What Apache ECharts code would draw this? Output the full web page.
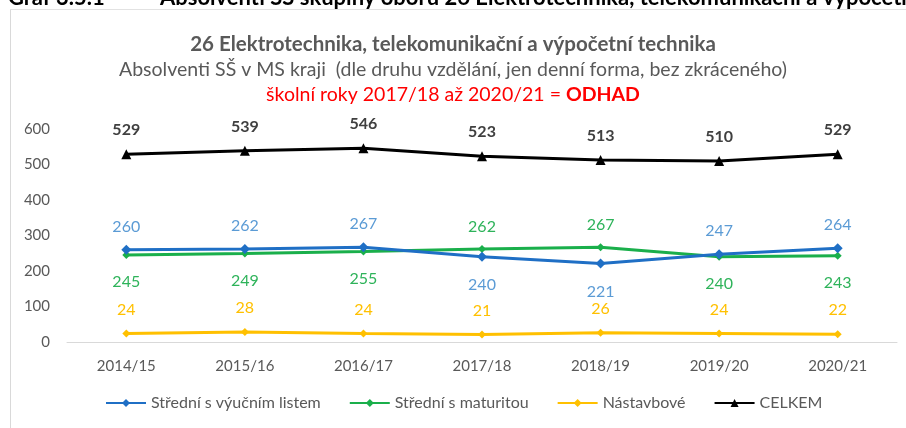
<!DOCTYPE html>
<html>
<head>
<meta charset="utf-8">
<script src="https://cdn.jsdelivr.net/npm/echarts@6/dist/echarts.min.js"></script>
<style>
  html, body { margin: 0; padding: 0; background: #fff; }
  #chart { width: 906px; height: 428px; }
</style>
</head>
<body>
<div id="chart"></div>
<script>
const years = ['2014/15', '2015/16', '2016/17', '2017/18', '2018/19', '2019/20', '2020/21']
const vyucni = [260, 262, 267, 240, 221, 247, 264]
const maturita = [245, 249, 255, 262, 267, 240, 243]
const nastavbove = [24, 28, 24, 21, 26, 24, 22]
const celkem = [529, 539, 546, 523, 513, 510, 529]
const yTicks = [0, 100, 200, 300, 400, 500, 600]

const font = 'Lato, "Open Sans", sans-serif'

// label nad/pod podle toho, ktera z dvou car je vys
function withLabelPos(values, other, color) {
  return values.map((v, i) => ({
    value: v,
    label: {
      position: v >= other[i] ? 'top' : 'bottom',
      distance: v >= other[i] ? 10 : 15,
      color: color,
    },
  }))
}

const chart = echarts.init(document.getElementById('chart'))

chart.setOption({
  backgroundColor: '#fff',
  animation: false,
  textStyle: { fontFamily: font },
  title: [
    {
      text: '26 Elektrotechnika, telekomunikační a výpočetní technika',
      left: 'center',
      top: 29,
      textStyle: { fontSize: 20.5, fontWeight: 'bold', color: '#595959', fontFamily: font },
    },
    {
      text: 'Absolventi SŠ v MS kraji  (dle druhu vzdělání, jen denní forma, bez zkráceného)',
      left: 'center',
      top: 55,
      textStyle: { fontSize: 19.5, fontWeight: 'normal', color: '#595959', fontFamily: font },
    },
    {
      text: '{n|školní roky 2017/18 až 2020/21 = }{b|ODHAD}',
      left: 'center',
      top: 80,
      textStyle: {
        rich: {
          n: { fontSize: 19.5, color: '#ff0000', fontWeight: 'normal', fontFamily: font },
          b: { fontSize: 19.5, color: '#ff0000', fontWeight: 'bold', fontFamily: font },
        },
      },
    },
  ],
  graphic: [
    {
      type: 'text',
      left: 8,
      top: -13,
      style: { text: 'Graf 3.5.1', font: 'bold 22px ' + font, fill: '#000' },
    },
    {
      type: 'text',
      left: 160,
      top: -13,
      style: {
        text: 'Absolventi SŠ skupiny oborů 26 Elektrotechnika, telekomunikační a výpočetní technika',
        font: 'bold 22px ' + font,
        fill: '#000',
      },
    },
    {
      type: 'line',
      shape: { x1: 10.5, y1: 9, x2: 10.5, y2: 428 },
      style: { stroke: '#d9d9d9', lineWidth: 1 },
    },
    {
      type: 'line',
      shape: { x1: 10, y1: 9.5, x2: 906, y2: 9.5 },
      style: { stroke: '#e2e2e2', lineWidth: 1 },
    },
  ],
  grid: { left: 67, right: 9, top: 129, bottom: 86 },
  legend: {
    bottom: 12,
    left: 100,
    itemWidth: 40,
    itemHeight: 10,
    itemGap: 28,
    textStyle: { fontSize: 16, color: '#595959', fontFamily: font },
    data: ['Střední s výučním listem', 'Střední s maturitou', 'Nástavbové', 'CELKEM'],
  },
  xAxis: {
    type: 'category',
    data: years,
    boundaryGap: true,
    axisLine: { lineStyle: { color: '#d9d9d9', width: 1 } },
    axisTick: { show: false },
    axisLabel: { color: '#595959', fontSize: 15, margin: 17 },
  },
  yAxis: {
    type: 'value',
    min: yTicks[0],
    max: yTicks[yTicks.length - 1],
    interval: 100,
    splitLine: { show: false },
    axisLine: { show: false },
    axisTick: { show: false },
    axisLabel: { color: '#595959', fontSize: 15, margin: 17 },
  },
  series: [
    {
      name: 'Střední s výučním listem',
      type: 'line',
      data: withLabelPos(vyucni, maturita, '#5b9bd5'),
      symbol: 'diamond',
      symbolSize: 10,
      lineStyle: { width: 3, color: '#1f6fc5' },
      itemStyle: { color: '#1f6fc5' },
      label: { show: true, fontSize: 16 },
      z: 3,
    },
    {
      name: 'Střední s maturitou',
      type: 'line',
      data: withLabelPos(maturita, vyucni, '#2eb35a'),
      symbol: 'diamond',
      symbolSize: 8,
      lineStyle: { width: 3, color: '#1aaf4b' },
      itemStyle: { color: '#1aaf4b' },
      label: { show: true, fontSize: 16 },
      z: 2,
    },
    {
      name: 'Nástavbové',
      type: 'line',
      data: nastavbove,
      symbol: 'diamond',
      symbolSize: 8,
      lineStyle: { width: 3, color: '#ffc000' },
      itemStyle: { color: '#ffc000' },
      label: { show: true, position: 'top', distance: 12, fontSize: 16, color: '#ffc000' },
    },
    {
      name: 'CELKEM',
      type: 'line',
      data: celkem,
      symbol: 'triangle',
      symbolSize: 10,
      lineStyle: { width: 3, color: '#000' },
      itemStyle: { color: '#000' },
      label: { show: true, position: 'top', distance: 11, fontSize: 16, fontWeight: 'bold', color: '#404040' },
    },
  ],
})
</script>
</body>
</html>
